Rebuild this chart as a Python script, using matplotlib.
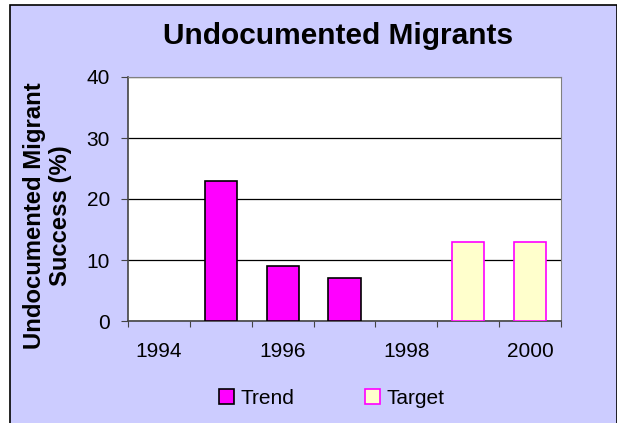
import matplotlib.pyplot as plt
import numpy as np
from matplotlib.patches import Rectangle, Patch

plt.rcParams['font.family'] = ['Liberation Sans', 'DejaVu Sans']

# data
years = ['1994', '1995', '1996', '1997', '1998', '1999', '2000']
trend = [0, 23, 9, 7, 0, 0, 0]
target = [0, 0, 0, 0, 0, 13, 13]
yticks = [0, 10, 20, 30, 40]

W, H = 617, 423
fig = plt.figure(figsize=(W / 100, H / 100), dpi=100)
fig.patch.set_facecolor('white')

# chart background box (behind the axes)
fig.patches.append(Rectangle((10.5 / W, -0.01), (606 / W), (H - 5.5) / H + 0.01,
                             transform=fig.transFigure, facecolor='#ccccff',
                             edgecolor='black', linewidth=1.2, zorder=-5))

ax = fig.add_axes([128 / W, 1 - 321 / H, (561 - 128) / W, (321 - 77) / H])
ax.set_facecolor('white')

x = np.arange(len(years))
tr_idx = [i for i, v in enumerate(trend) if v > 0]
tg_idx = [i for i, v in enumerate(target) if v > 0]
ax.bar([x[i] for i in tr_idx], [trend[i] for i in tr_idx], width=0.52,
       color='#ff00ff', edgecolor='black', linewidth=1.2, zorder=3)
ax.bar([x[i] for i in tg_idx], [target[i] for i in tg_idx], width=0.52,
       color='#ffffcc', edgecolor='#ff00ff', linewidth=1.2, zorder=3)

ax.set_xlim(-0.5, len(years) - 0.5)
ax.set_ylim(0, 40)
ax.set_yticks(yticks)
ax.set_yticklabels([str(t) for t in yticks], fontsize=15)
ax.yaxis.grid(True, color='black', linewidth=0.9, zorder=1)
ax.set_axisbelow(True)

# category boundaries as ticks, labels every other year
ax.set_xticks(np.arange(-0.5, len(years), 1.0))
ax.set_xticklabels([])
ax.set_xticks(x[::2], minor=True)
ax.set_xticklabels(years[::2], minor=True, fontsize=15)
ax.tick_params(axis='x', which='minor', length=0, pad=15)
ax.tick_params(axis='x', which='major', length=4, direction='out', color='#444444')
ax.tick_params(axis='y', length=5, direction='out', color='#444444', pad=8)

for side in ['top', 'right']:
    ax.spines[side].set_color('#808080')
for side in ['left', 'bottom']:
    ax.spines[side].set_color('#444444')
    ax.spines[side].set_linewidth(1.2)

ax.set_ylabel('Undocumented Migrant\nSuccess (%)', fontsize=17.2, fontweight='bold',
              linespacing=1.2)
ax.yaxis.set_label_coords(-0.129, 0.43)

fig.text(338 / W, 1 - 44 / H, 'Undocumented Migrants', ha='center', va='baseline',
         fontsize=21.5, fontweight='bold')

handles = [Patch(facecolor='#ff00ff', edgecolor='black', linewidth=1.2),
           Patch(facecolor='#ffffcc', edgecolor='#ff00ff', linewidth=1.2)]
fig.legend(handles, ['Trend', 'Target'], loc='center', ncol=2,
           bbox_to_anchor=(332 / W, 1 - 398 / H), frameon=False, fontsize=15,
           handlelength=0.72, handleheight=0.72, handletextpad=0.3,
           columnspacing=3.4, borderpad=0, borderaxespad=0)

fig.savefig('out.png', dpi=100)
